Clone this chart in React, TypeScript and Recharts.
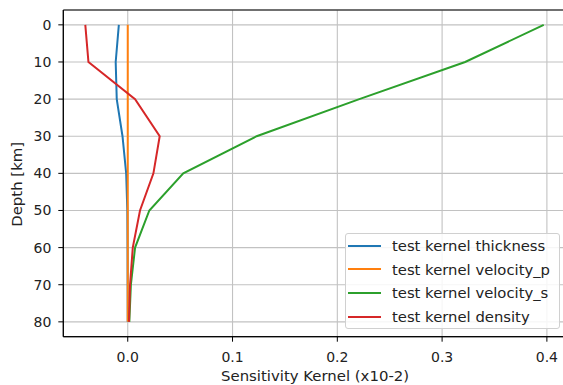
import { CartesianGrid, Legend, ReferenceArea, Scatter, ScatterChart, XAxis, YAxis } from "recharts";

const depths = [0, 10, 20, 30, 40, 50, 60, 70, 80];
const thickness = [-0.0085, -0.0115, -0.0105, -0.005, -0.0015, -0.0004, -0.0002, -0.0001, 0];
const velocityP = [0, 0, 0, 0, 0, 0, 0, 0, 0];
const velocityS = [0.397, 0.322, 0.221, 0.123, 0.053, 0.0206, 0.007, 0.003, 0.0015];
const density = [-0.0405, -0.0375, 0.007, 0.0305, 0.0245, 0.0117, 0.0048, 0.0022, 0.0012];

const xTicks = [0, 0.1, 0.2, 0.3, 0.4];
const yTicks = [0, 10, 20, 30, 40, 50, 60, 70, 80];

const series = [
  { name: "test kernel thickness", color: "#1f77b4", values: thickness },
  { name: "test kernel velocity_p", color: "#ff7f0e", values: velocityP },
  { name: "test kernel velocity_s", color: "#2ca02c", values: velocityS },
  { name: "test kernel density", color: "#d62728", values: density },
];

const font = "'DejaVu Sans', sans-serif";
const X_DOMAIN: [number, number] = [-0.0615, 0.419];
const Y_DOMAIN: [number, number] = [-4, 84];

const noDot = () => <g />;

function KernelLegend() {
  return (
    <div
      style={{
        width: 213,
        height: 94,
        border: "1px solid #d0d0d0",
        borderRadius: 3,
        background: "rgba(255,255,255,0.85)",
        fontFamily: font,
        fontSize: 14.8,
        color: "#222",
        boxSizing: "content-box",
      }}
    >
      {series.map((s) => (
        <div key={s.name} style={{ height: 23.7, display: "flex", alignItems: "center" }}>
          <div style={{ width: 33, height: 2, background: s.color, marginLeft: 2, marginRight: 11 }} />
          <span style={{ whiteSpace: "nowrap" }}>{s.name}</span>
        </div>
      ))}
    </div>
  );
}

export default function App() {
  return (
    <div style={{ position: "absolute", left: 0, top: 0, width: 563, height: 385, overflow: "hidden", background: "#fff" }}>
      <ScatterChart width={575} height={385} margin={{ top: 10, right: 8.2, bottom: 18.3, left: 0 }}>
        <CartesianGrid stroke="#c2c2c2" strokeWidth={1.1} />
        <XAxis
          type="number"
          dataKey="x"
          domain={X_DOMAIN}
          allowDataOverflow
          ticks={xTicks}
          tickFormatter={(v: number) => v.toFixed(1)}
          height={30}
          tickSize={5}
          tickMargin={10}
          stroke="#000"
          tick={{ fill: "#222", fontSize: 14, fontFamily: font }}
          label={{ value: "Sensitivity Kernel (x10-2)", position: "bottom", offset: 0, dy: 4, fill: "#222", fontSize: 14.9, fontFamily: font }}
        />
        <YAxis
          type="number"
          dataKey="y"
          domain={Y_DOMAIN}
          reversed
          allowDataOverflow
          ticks={yTicks}
          width={63.3}
          tickSize={5}
          tickMargin={7}
          stroke="#000"
          tick={{ fill: "#222", fontSize: 14, fontFamily: font }}
          label={{ value: "Depth [km]", angle: -90, position: "insideLeft", offset: 17, dy: 11, fill: "#222", fontSize: 14.9, fontFamily: font, style: { textAnchor: "middle" } }}
        />
        <ReferenceArea x1={X_DOMAIN[0]} x2={X_DOMAIN[1]} y1={Y_DOMAIN[0]} y2={Y_DOMAIN[1]} fill="none" stroke="#000" strokeWidth={1} fillOpacity={0} />
        {series.map((s) => (
          <Scatter
            key={s.name}
            name={s.name}
            data={depths.map((d, i) => ({ x: s.values[i], y: d }))}
            line={{ stroke: s.color, strokeWidth: 2 }}
            shape={noDot}
            fill={s.color}
            isAnimationActive={false}
          />
        ))}
        <Legend
          layout="vertical"
          align="center"
          verticalAlign="middle"
          content={() => <KernelLegend />}
          wrapperStyle={{ left: 345, top: 232.7, width: 215, height: 96 }}
        />
      </ScatterChart>
    </div>
  );
}
